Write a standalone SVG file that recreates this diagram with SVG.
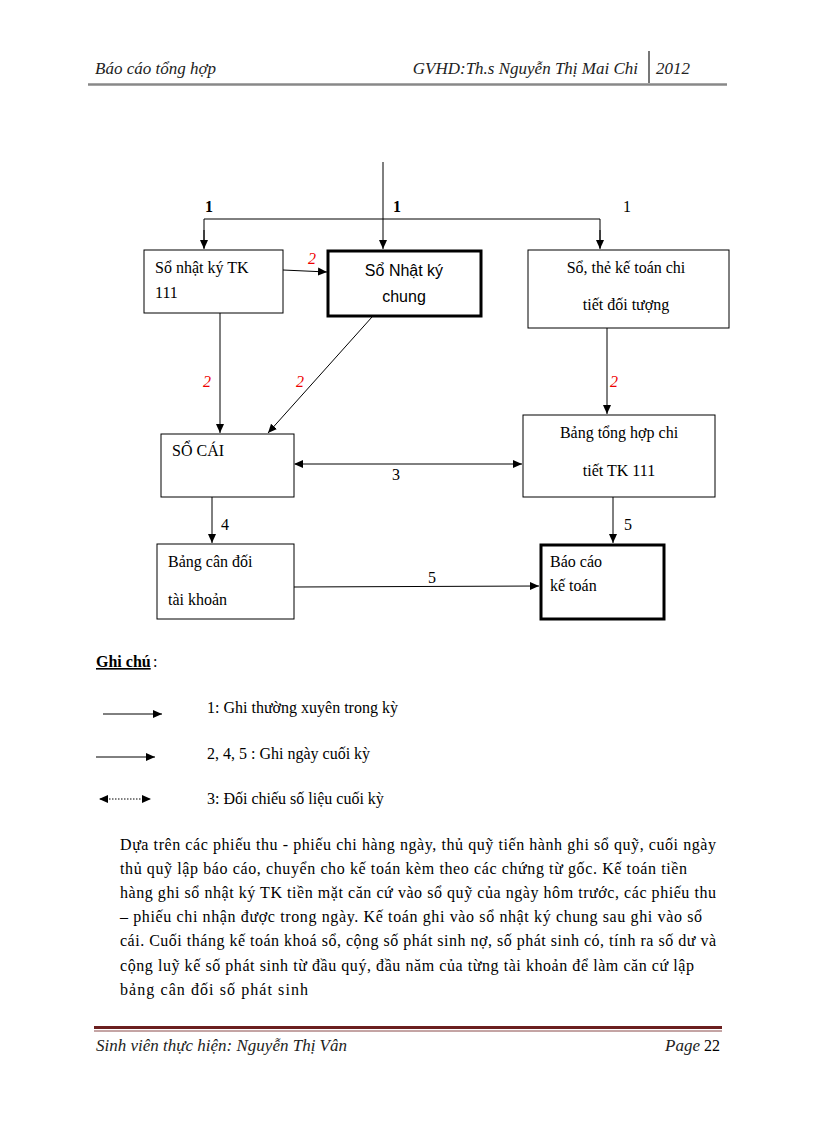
<svg xmlns="http://www.w3.org/2000/svg" width="816" height="1123" viewBox="0 0 816 1123">
<defs>
<marker id="ah" markerWidth="10" markerHeight="10" refX="9" refY="5" orient="auto" markerUnits="userSpaceOnUse"><path d="M0,1 L9,5 L0,9 Z" fill="#000"/></marker>
<marker id="ahs" markerWidth="10" markerHeight="10" refX="1" refY="5" orient="auto" markerUnits="userSpaceOnUse"><path d="M9,1 L0,5 L9,9 Z" fill="#000"/></marker>
<style>
.t{font-family:"Liberation Serif","Times New Roman",serif;font-size:16px;fill:#000}
.hd{font-family:"Liberation Serif","Times New Roman",serif;font-style:italic;font-size:17px;fill:#222}
.sans{font-family:"Liberation Sans",Arial,sans-serif;font-size:16px;fill:#000}
.red{font-family:"Liberation Serif","Times New Roman",serif;font-style:italic;font-size:16px;fill:#e00}
.box{fill:#fff;stroke:#000;stroke-width:1}
.bbox{fill:#fff;stroke:#000;stroke-width:3}
.ln{fill:none;stroke:#000;stroke-width:1}
.p{font-family:"Liberation Serif","Times New Roman",serif;font-size:16px;fill:#000}
</style>
</defs>
<rect width="816" height="1123" fill="#fff"/>
<g id="header">
<text class="hd" x="95" y="74">Báo cáo tổng hợp</text>
<text class="hd" x="638" y="74" text-anchor="end">GVHD:Th.s  Nguyễn Thị Mai Chi</text>
<line x1="649" y1="51" x2="649" y2="83" stroke="#777" stroke-width="2"/>
<text class="hd" x="656" y="74">2012</text>
<line x1="88" y1="84.5" x2="727" y2="84.5" stroke="#888" stroke-width="2.5"/>
</g>
<g id="connectors">
<line class="ln" x1="383" y1="162" x2="383" y2="249" marker-end="url(#ah)"/>
<polyline class="ln" points="204,248 204,219 600,219 600,248"/>
<line class="ln" x1="204" y1="230" x2="204" y2="249" marker-end="url(#ah)"/>
<line class="ln" x1="600" y1="230" x2="600" y2="249" marker-end="url(#ah)"/>
<line class="ln" x1="283" y1="270" x2="327" y2="272" marker-end="url(#ah)"/>
<line class="ln" x1="220" y1="313" x2="220" y2="433" marker-end="url(#ah)"/>
<line class="ln" x1="372" y1="317" x2="268" y2="433" marker-end="url(#ah)"/>
<line class="ln" x1="607" y1="328" x2="607" y2="414" marker-end="url(#ah)"/>
<line class="ln" x1="295" y1="464" x2="522" y2="464" marker-start="url(#ahs)" marker-end="url(#ah)"/>
<line class="ln" x1="212" y1="497" x2="212" y2="543" marker-end="url(#ah)"/>
<line class="ln" x1="613" y1="497" x2="613" y2="543" marker-end="url(#ah)"/>
<line class="ln" x1="294" y1="587" x2="539" y2="586" marker-end="url(#ah)"/>
<text class="t" x="205" y="212" font-weight="bold">1</text>
<text class="t" x="393" y="212" font-weight="bold">1</text>
<text class="t" x="623" y="212">1</text>
<text class="red" x="308" y="264">2</text>
<text class="red" x="203" y="387">2</text>
<text class="red" x="296" y="387">2</text>
<text class="red" x="610" y="387">2</text>
<text class="t" x="392" y="480">3</text>
<text class="t" x="221" y="530">4</text>
<text class="t" x="624" y="530">5</text>
<text class="t" x="428" y="583">5</text>
</g>
<g id="n_sonhatkytk111">
<rect class="box" x="144" y="250" width="139" height="63"/>
<text class="t" x="155" y="273">Sổ nhật ký TK</text>
<text class="t" x="155" y="298">111</text>
</g>
<g id="n_sonhatkychung">
<rect class="bbox" x="328" y="251" width="153" height="65"/>
<text class="sans" x="404" y="276" text-anchor="middle">Sổ Nhật ký</text>
<text class="sans" x="404" y="302" text-anchor="middle">chung</text>
</g>
<g id="n_sothe">
<rect class="box" x="528" y="250" width="201" height="78"/>
<text class="t" x="626" y="273" text-anchor="middle">Sổ, thẻ kế toán  chi</text>
<text class="t" x="626" y="310" text-anchor="middle">tiết đối tượng</text>
</g>
<g id="n_socai">
<rect class="box" x="161" y="434" width="133" height="63"/>
<text class="t" x="172" y="456">SỔ CÁI</text>
</g>
<g id="n_bangtonghop">
<rect class="box" x="523" y="415" width="192" height="82"/>
<text class="t" x="619" y="438" text-anchor="middle">Bảng  tổng hợp  chi</text>
<text class="t" x="619" y="476" text-anchor="middle">tiết TK  111</text>
</g>
<g id="n_bangcandoi">
<rect class="box" x="157" y="544" width="137" height="75"/>
<text class="t" x="168" y="567">Bảng  cân đối</text>
<text class="t" x="168" y="605">tài khoản</text>
</g>
<g id="n_baocao">
<rect class="bbox" x="541" y="545" width="123" height="74"/>
<text class="t" x="550" y="567">Báo cáo</text>
<text class="t" x="550" y="591">kế toán</text>
</g>
<g id="legend">
<text class="t" x="96" y="667" font-weight="bold" text-decoration="underline">Ghi chú</text>
<text class="t" x="153" y="667">:</text>
<line class="ln" x1="103" y1="714" x2="162" y2="714" marker-end="url(#ah)"/>
<text class="t" x="207" y="713">1: Ghi thường  xuyên  trong kỳ</text>
<line class="ln" x1="96" y1="757" x2="155" y2="757" marker-end="url(#ah)"/>
<text class="t" x="207" y="759">2, 4, 5 : Ghi ngày  cuối kỳ</text>
<line x1="100" y1="799" x2="151" y2="799" stroke="#000" stroke-width="1" stroke-dasharray="1.5,1.5" marker-start="url(#ahs)" marker-end="url(#ah)"/>
<text class="t" x="207" y="804">3: Đối chiếu số liệu cuối kỳ</text>
</g>
<g id="paragraph">
<text class="p" x="120" y="850" textLength="596" lengthAdjust="spacing">Dựa trên các phiếu thu - phiếu chi hàng ngày,  thủ quỹ tiến hành  ghi sổ quỹ, cuối ngày</text>
<text class="p" x="120" y="874" textLength="567" lengthAdjust="spacing">thủ quỹ  lập báo cáo, chuyển  cho kế toán kèm theo các chứng từ gốc. Kế toán tiền</text>
<text class="p" x="120" y="898" textLength="596" lengthAdjust="spacing">hàng  ghi sổ nhật ký TK  tiền mặt căn cứ vào  sổ quỹ  của ngày  hôm trước, các phiếu thu</text>
<text class="p" x="120" y="922" textLength="582" lengthAdjust="spacing">– phiếu chi nhận được trong ngày.  Kế toán ghi vào  sổ nhật ký chung  sau ghi vào  sổ</text>
<text class="p" x="120" y="946" textLength="596" lengthAdjust="spacing">cái. Cuối tháng  kế toán khoá sổ, cộng số phát  sinh nợ, số phát  sinh có, tính ra số dư và</text>
<text class="p" x="120" y="971" textLength="574" lengthAdjust="spacing">cộng luỹ kế số phát  sinh từ đầu quý,  đầu năm  của từng tài khoản  để làm căn cứ lập</text>
<text class="p" x="120" y="995" textLength="188" lengthAdjust="spacing">bảng  cân đối số phát  sinh</text>
</g>
<g id="footer">
<line x1="94" y1="1027.5" x2="722" y2="1027.5" stroke="#6b1f1f" stroke-width="3"/>
<line x1="94" y1="1031" x2="722" y2="1031" stroke="#8a4a4a" stroke-width="1"/>
<text class="hd" x="96" y="1051">Sinh viên thực hiện: Nguyễn Thị Vân</text>
<text class="hd" x="700" y="1051" text-anchor="end">Page</text>
<text class="t" x="704" y="1051" font-size="14">22</text>
</g>
</svg>
